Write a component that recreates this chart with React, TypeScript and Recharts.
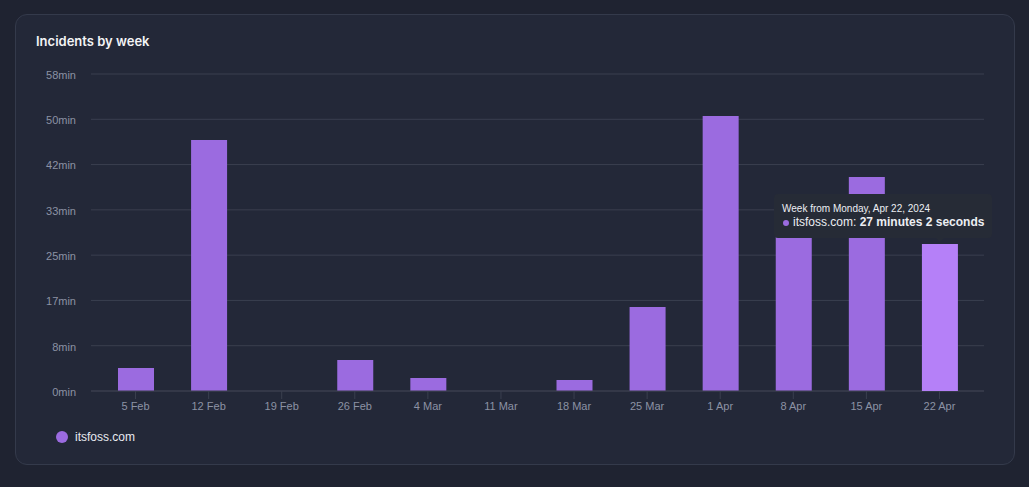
import React from 'react';
import { BarChart, Bar, XAxis, YAxis, CartesianGrid, Tooltip } from 'recharts';

const weeks = ['5 Feb', '12 Feb', '19 Feb', '26 Feb', '4 Mar', '11 Mar', '18 Mar', '25 Mar', '1 Apr', '8 Apr', '15 Apr', '22 Apr'];
const weekStarts = ['Monday, Feb 5, 2024', 'Monday, Feb 12, 2024', 'Monday, Feb 19, 2024', 'Monday, Feb 26, 2024', 'Monday, Mar 4, 2024', 'Monday, Mar 11, 2024', 'Monday, Mar 18, 2024', 'Monday, Mar 25, 2024', 'Monday, Apr 1, 2024', 'Monday, Apr 8, 2024', 'Monday, Apr 15, 2024', 'Monday, Apr 22, 2024'];
const downtimeMinutes = [4.23, 46.17, 0, 5.7, 2.39, 0, 2.02, 15.45, 50.58, 31.0, 39.36, 27.033];
const yMax = 58.3;
const yTickCount = 8;
const seriesName = 'itsfoss.com';

const data = weeks.map((w, i) => ({ week: w, start: weekStarts[i], value: downtimeMinutes[i] }));
const yTicks = Array.from({ length: yTickCount }, (_, i) => (yMax * i) / (yTickCount - 1));

const BAR = '#9b6be0';
const BAR_ACTIVE = '#b580f8';
const GRID = '#3a3f4f';
const AXIS_TEXT = '#8c92a4';
const FONT = '"Liberation Sans", Arial, sans-serif';

function fmtDuration(v: number) {
  const total = Math.round(v * 60);
  const m = Math.floor(total / 60);
  const s = total % 60;
  return `${m} minutes ${s} seconds`;
}

const TooltipBox = (props: any) => {
  const { active, payload } = props;
  if (!active || !payload || !payload.length) return null;
  const p = payload[0].payload;
  return (
    <div
      style={{
        background: '#262b36',
        borderRadius: 4,
        padding: '8px 8px 8px 8px',
        fontFamily: FONT,
        color: '#eceef3',
        whiteSpace: 'nowrap',
        position: 'relative',
      }}
    >
      <div style={{ fontSize: 10, lineHeight: '13px' }}>Week from {p.start}</div>
      <div style={{ fontSize: 12, lineHeight: '15px', display: 'flex', alignItems: 'center' }}>
        <span style={{ display: 'inline-block', width: 6, height: 6, borderRadius: 3, background: BAR, marginRight: 4, marginLeft: 1 }} />
        <span>{seriesName}:&nbsp;</span>
        <b>{fmtDuration(p.value)}</b>
      </div>
      <div
        style={{
          position: 'absolute',
          left: 162,
          bottom: -4,
          width: 0,
          height: 0,
          borderLeft: '4px solid transparent',
          borderRight: '4px solid transparent',
          borderTop: '4px solid #262b36',
        }}
      />
    </div>
  );
};

export default function App() {
  return (
    <div style={{ position: 'absolute', left: 0, top: 0, width: 1029, height: 487, background: '#1f2331', overflow: 'hidden' }}>
      <div
        style={{
          position: 'absolute',
          left: 15,
          top: 14,
          width: 1000,
          height: 451,
          boxSizing: 'border-box',
          background: '#232838',
          border: '1px solid #343a4b',
          borderRadius: 12,
        }}
      />
      <div
        style={{
          position: 'absolute',
          left: 36,
          top: 32,
          fontFamily: 'Inter, sans-serif',
          fontWeight: 600,
          fontSize: 13,
          color: '#f3f4f6',
          lineHeight: '18px',
        }}
      >
        Incidents by week
      </div>
      <div style={{ position: 'absolute', left: 0, top: 0 }}>
        <BarChart
          width={1029}
          height={487}
          data={data}
          margin={{ top: 74, right: 45, left: 31, bottom: 66 }}
          barSize={36}
        >
          <CartesianGrid vertical={false} stroke={GRID} strokeWidth={1} />
          <XAxis
            dataKey="week"
            height={30}
            stroke={GRID}
            tickSize={8}
            tickMargin={3}
            tick={{ fill: AXIS_TEXT, fontSize: 11, fontFamily: FONT }}
            padding={{ left: 8, right: 8 }}
            interval={0}
          />
          <YAxis
            width={60}
            domain={[0, yMax]}
            ticks={yTicks}
            axisLine={false}
            tickLine={false}
            tickSize={0}
            tickMargin={15}
            tick={{ fill: AXIS_TEXT, fontSize: 11, fontFamily: FONT, dy: 1 }}
            tickFormatter={(v: number) => `${Math.round(v)}min`}
          />
          <Tooltip
            content={<TooltipBox />}
            defaultIndex={11}
            active={true}
            cursor={false}
            position={{ x: 774, y: 194 }}
            isAnimationActive={false}
            wrapperStyle={{ outline: 'none', zIndex: 10 }}
          />
          <Bar
            dataKey="value"
            name={seriesName}
            fill={BAR}
            activeBar={{ fill: BAR_ACTIVE }}
            isAnimationActive={false}
          />
        </BarChart>
      </div>
      <div
        style={{
          position: 'absolute',
          left: 56,
          top: 430,
          display: 'flex',
          alignItems: 'center',
          fontFamily: FONT,
          fontSize: 12,
          color: '#e8eaf0',
        }}
      >
        <span style={{ display: 'inline-block', width: 12, height: 12, borderRadius: 6, background: BAR, marginRight: 7 }} />
        <span>{seriesName}</span>
      </div>
    </div>
  );
}
